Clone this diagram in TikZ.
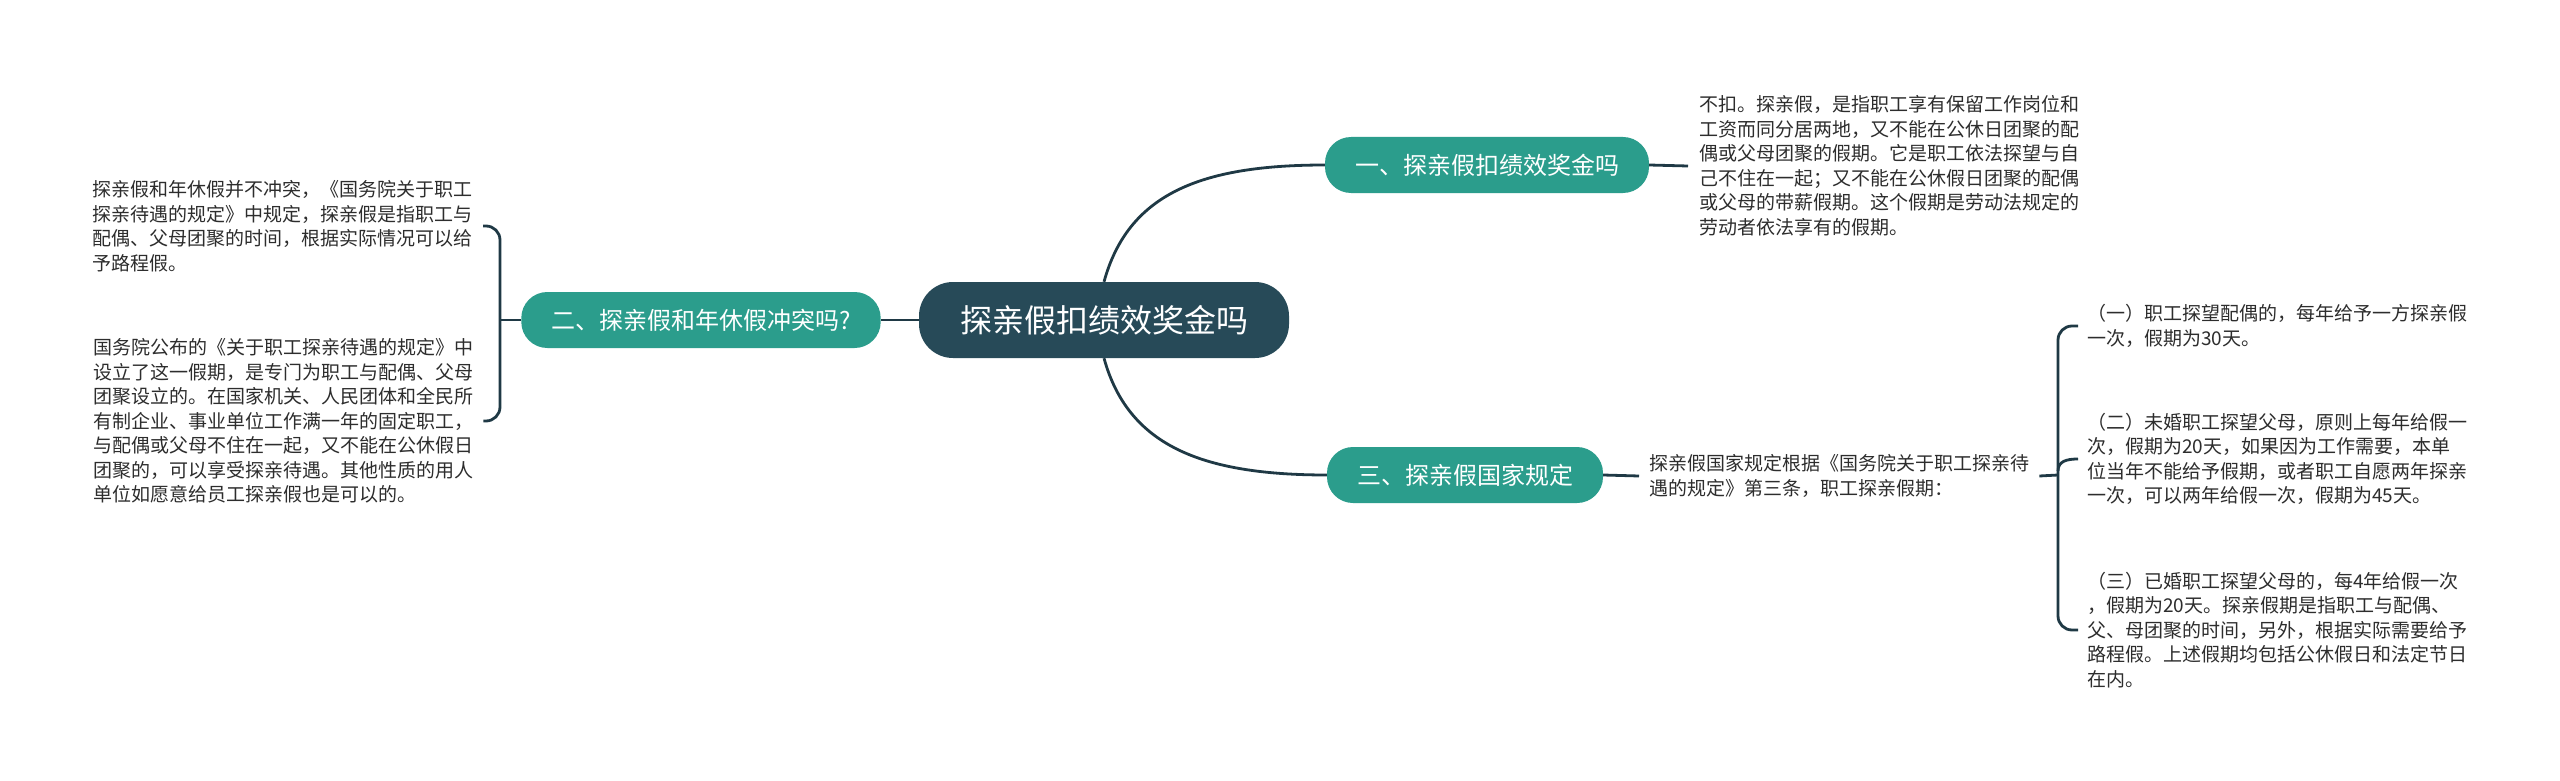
\documentclass[tikz,border=0pt]{standalone}
\usepackage{fontspec}
\setmainfont{Noto Sans CJK SC}
\definecolor{tealnode}{RGB}{43,157,140}
\definecolor{darknode}{RGB}{39,74,88}
\definecolor{linecol}{RGB}{31,57,69}
\definecolor{txtcol}{RGB}{45,45,45}
\tikzset{
  conn/.style={draw=linecol, line width=2.8pt},
  topicbox/.style={fill=tealnode, text=white, font=\fontsize{24}{28}\selectfont,
    rounded corners=26pt, minimum height=56pt, inner xsep=30pt, inner ysep=0pt},
  rootbox/.style={fill=darknode, text=white, font=\fontsize{32}{36}\selectfont,
    rounded corners=34pt, minimum height=76pt, inner xsep=41pt, inner ysep=0pt},
  leaftext/.style={text=txtcol, font=\fontsize{19}{24.5}\selectfont, align=left,
    inner ysep=0pt}
}
\begin{document}
\begin{tikzpicture}[x=1pt,y=-1pt]
\useasboundingbox (0,0) rectangle (2560,781);
\fill[white] (0,0) rectangle (2560,781);

% main nodes
\node[rootbox] (c) at (1104,320) {探亲假扣绩效奖金吗};
\node[topicbox] (n1) at (1487,165) {一、探亲假扣绩效奖金吗};
\node[topicbox] (n2) at (701,320) {二、探亲假和年休假冲突吗?};
\node[topicbox] (n3) at (1465,475) {三、探亲假国家规定};

% text of topic 1
\node[leaftext, anchor=west, inner xsep=11pt] (n1a) at (1688,166) {不扣。探亲假，是指职工享有保留工作岗位和\\
工资而同分居两地，又不能在公休日团聚的配\\
偶或父母团聚的假期。它是职工依法探望与自\\
己不住在一起；又不能在公休假日团聚的配偶\\
或父母的带薪假期。这个假期是劳动法规定的\\
劳动者依法享有的假期。};

% texts of topic 2
\node[leaftext, anchor=east, inner xsep=10pt] (n2a) at (483,226) {探亲假和年休假并不冲突，《国务院关于职工\\
探亲待遇的规定》中规定，探亲假是指职工与\\
配偶、父母团聚的时间，根据实际情况可以给\\
予路程假。};
\node[leaftext, anchor=west, inner xsep=10pt] (n2b) at (83,421) {国务院公布的《关于职工探亲待遇的规定》中\\
设立了这一假期，是专门为职工与配偶、父母\\
团聚设立的。在国家机关、人民团体和全民所\\
有制企业、事业单位工作满一年的固定职工，\\
与配偶或父母不住在一起，又不能在公休假日\\
团聚的，可以享受探亲待遇。其他性质的用人\\
单位如愿意给员工探亲假也是可以的。};

% text of topic 3
\node[leaftext, anchor=west, inner xsep=10pt] (n3a) at (1639,476) {探亲假国家规定根据《国务院关于职工探亲待\\
遇的规定》第三条，职工探亲假期：};

% items of topic 3
\node[leaftext, anchor=west, inner xsep=9pt] (i1) at (2078,326) {（一）职工探望配偶的，每年给予一方探亲假\\
一次，假期为30天。};
\node[leaftext, anchor=west, inner xsep=9pt] (i2) at (2078,459) {（二）未婚职工探望父母，原则上每年给假一\\
次，假期为20天，如果因为工作需要，本单\\
位当年不能给予假期，或者职工自愿两年探亲\\
一次，可以两年给假一次，假期为45天。};
\node[leaftext, anchor=west, inner xsep=9pt] (i3) at (2078,630) {（三）已婚职工探望父母的，每4年给假一次\\
，假期为20天。探亲假期是指职工与配偶、\\
父、母团聚的时间，另外，根据实际需要给予\\
路程假。上述假期均包括公休假日和法定节日\\
在内。};

% junction coordinates
\coordinate (lb) at (500,320);
\coordinate (rb) at (2058,475);

% connectors
\draw[conn] (c.north) .. controls +(24,-87) and +(-126,0) .. (n1.west);
\draw[conn] (c.south) .. controls +(24,87) and +(-126,0) .. (n3.west);
\draw[conn] (c.west) -- (n2.east);
\draw[conn] (n1.east) -- (n1a.west);
\draw[conn] (n3.east) -- (n3a.west);
\draw[conn] (n3a.east) -- (rb);

% left bracket
\draw[conn] (n2.west) -- (lb);
\draw[conn, rounded corners=14pt] (n2a.east) -| (lb) |- (n2b.east);

% right bracket
\draw[conn, rounded corners=14pt] (i1.west) -| (rb) |- (i3.west);
\draw[conn] (rb) ++(0,-4) .. controls +(0,-10) and +(-11,0) .. (i2.west);
\end{tikzpicture}
\end{document}
